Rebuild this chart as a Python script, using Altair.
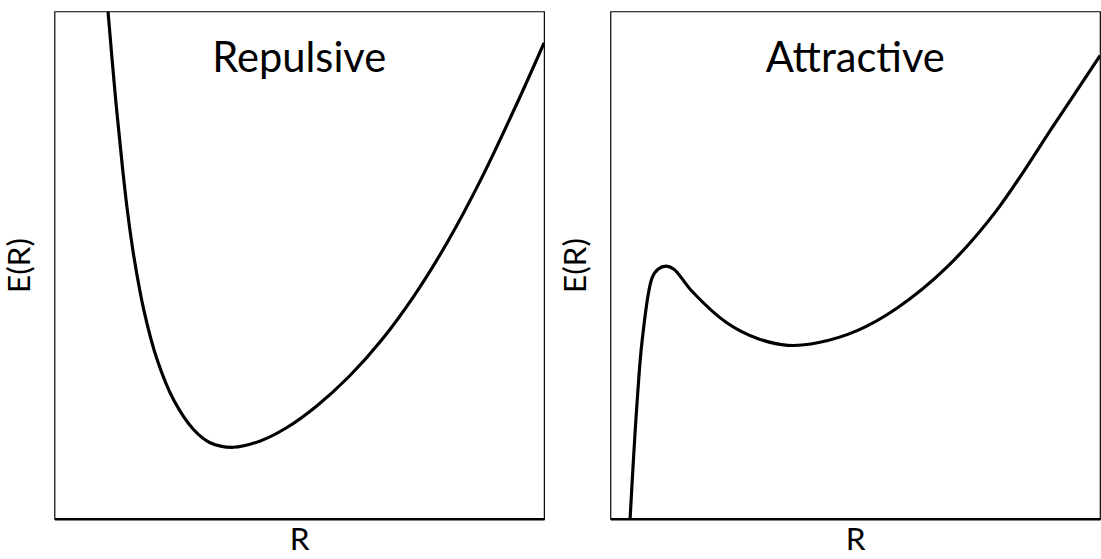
import altair as alt
import pandas as pd

# Potential-energy curves E(R), arbitrary units on a 0-10 grid
repulsive_R = [1.093, 1.255, 1.391, 1.492, 1.626, 1.828, 2.099, 2.435, 2.840,
               3.178, 3.650, 4.190, 4.731, 5.338, 6.012, 6.686, 7.362, 8.036, 8.711,
               9.453, 10.0]
repulsive_E = [10.0, 8.20, 6.90, 6.05, 5.14, 4.10, 3.13, 2.34, 1.76,
               1.50, 1.41, 1.53, 1.79, 2.21, 2.80, 3.53, 4.42, 5.47, 6.69,
               8.20, 9.38]

attractive_R = [0.401, 0.482, 0.547, 0.648, 0.850, 0.972, 1.134, 1.296, 1.660, 2.368,
                3.016, 3.623, 4.231, 5.040, 5.850, 6.862, 7.874, 9.090, 9.899, 10.0]
attractive_E = [0.0, 1.37, 2.34, 3.52, 4.75, 4.92, 4.98, 4.92, 4.49, 3.87,
                3.55, 3.42, 3.47, 3.71, 4.15, 4.95, 6.06, 7.81, 8.98, 9.13]

panel_labels = ["Repulsive", "Attractive"]
label_pos = (5.0, 8.8)

FONT = "Lato"


def panel(R, E, label):
    curve = pd.DataFrame({"R": R, "E": E})
    x = alt.X(
        "R:Q",
        scale=alt.Scale(domain=[0, 10], nice=False, zero=False),
        axis=alt.Axis(title="R", labels=False, ticks=False, grid=False,
                      domainColor="black", domainWidth=2.5, titlePadding=6),
    )
    y = alt.Y(
        "E:Q",
        scale=alt.Scale(domain=[0, 10], nice=False, zero=False),
        axis=alt.Axis(title="E(R)", labels=False, ticks=False, grid=False,
                      domain=False, titlePadding=18),
    )
    line = alt.Chart(curve).mark_line(
        color="black", strokeWidth=3.2, interpolate="catmull-rom", clip=True
    ).encode(x=x, y=y)
    note = alt.Chart(
        pd.DataFrame({"R": [label_pos[0]], "E": [label_pos[1]], "t": [label]})
    ).mark_text(
        font=FONT, fontSize=42, align="center", baseline="alphabetic", color="black"
    ).encode(x="R:Q", y="E:Q", text="t:N")
    return alt.layer(line, note).properties(width=494, height=512)


chart = alt.hconcat(
    panel(repulsive_R, repulsive_E, panel_labels[0]),
    panel(attractive_R, attractive_E, panel_labels[1]),
    spacing=14,
).properties(
    padding={"left": 3, "top": 8, "right": 0, "bottom": 0}
).configure_view(
    stroke="black", strokeWidth=1.2
).configure_axis(
    titleFont=FONT, titleFontSize=32, titleFontWeight="normal", titleColor="black"
)

chart.save("out.html", embed_options={"renderer": "svg", "actions": False})
